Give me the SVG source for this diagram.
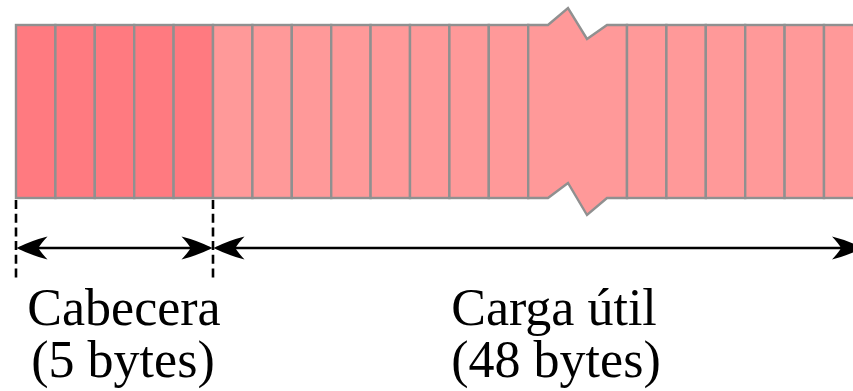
<svg xmlns="http://www.w3.org/2000/svg" width="853" height="391" viewBox="0 0 853 391">
  <style>
    .hdr { fill: #FF7A80; stroke: #909090; stroke-width: 2.4; }
    .pay { fill: #FF9999; stroke: #909090; stroke-width: 2.4; stroke-linejoin: miter; }
    .dash { stroke: #000; stroke-width: 2.6; stroke-dasharray: 9 4.7; fill: none; }
    .arr { stroke: #000; stroke-width: 2.4; fill: none; }
    .lbl { font-family: "Liberation Serif", "Times New Roman", serif; font-size: 52px; fill: #000; text-anchor: middle; }
  </style>
  <defs>
    <marker id="head" viewBox="-30 -12 34 24" refX="0" refY="0" markerWidth="34" markerHeight="24" markerUnits="userSpaceOnUse" orient="auto-start-reverse">
      <path d="M3,0 Q-12,-7.5 -28,-11.5 Q-21,-4 -19,0 Q-21,4 -28,11.5 Q-12,7.5 3,0 Z" fill="#000"/>
    </marker>
  </defs>

  <g id="header">
    <rect class="hdr" x="16" y="25" width="39.4" height="173"/>
    <rect class="hdr" x="55.4" y="25" width="39.4" height="173"/>
    <rect class="hdr" x="94.8" y="25" width="39.4" height="173"/>
    <rect class="hdr" x="134.2" y="25" width="39.4" height="173"/>
    <rect class="hdr" x="173.6" y="25" width="39.4" height="173"/>
  </g>

  <g id="payload">
    <rect class="pay" x="213" y="25" width="39.4" height="173"/>
    <rect class="pay" x="252.4" y="25" width="39.4" height="173"/>
    <rect class="pay" x="291.8" y="25" width="39.4" height="173"/>
    <rect class="pay" x="331.2" y="25" width="39.4" height="173"/>
    <rect class="pay" x="370.6" y="25" width="39.4" height="173"/>
    <rect class="pay" x="410" y="25" width="39.4" height="173"/>
    <rect class="pay" x="449.4" y="25" width="39.4" height="173"/>
    <rect class="pay" x="488.8" y="25" width="39.4" height="173"/>
    <path class="pay" d="M528.2,25 L548,25 L568,8 L587,39 L607,25 L627,25 L627,198 L607,198 L587,215 L568,183 L548,198 L528.2,198 Z"/>
    <rect class="pay" x="627" y="25" width="39.4" height="173"/>
    <rect class="pay" x="666.4" y="25" width="39.4" height="173"/>
    <rect class="pay" x="705.8" y="25" width="39.4" height="173"/>
    <rect class="pay" x="745.2" y="25" width="39.4" height="173"/>
    <rect class="pay" x="784.6" y="25" width="39.4" height="173"/>
    <rect class="pay" x="824" y="25" width="39.4" height="173"/>
  </g>

  <g id="connectors">
    <line class="dash" x1="16" y1="200" x2="16" y2="281"/>
    <line class="dash" x1="213" y1="200" x2="213" y2="281"/>
    <line class="arr" x1="19.5" y1="248" x2="209.5" y2="248" marker-start="url(#head)" marker-end="url(#head)"/>
    <line class="arr" x1="216.5" y1="248" x2="860" y2="248" marker-start="url(#head)" marker-end="url(#head)"/>
  </g>

  <g id="label-header">
    <text class="lbl" x="124" y="325">Cabecera</text>
    <text class="lbl" x="123" y="377">(5 bytes)</text>
  </g>
  <g id="label-payload">
    <text class="lbl" x="554" y="325">Carga útil</text>
    <text class="lbl" x="556" y="377">(48 bytes)</text>
  </g>
</svg>
